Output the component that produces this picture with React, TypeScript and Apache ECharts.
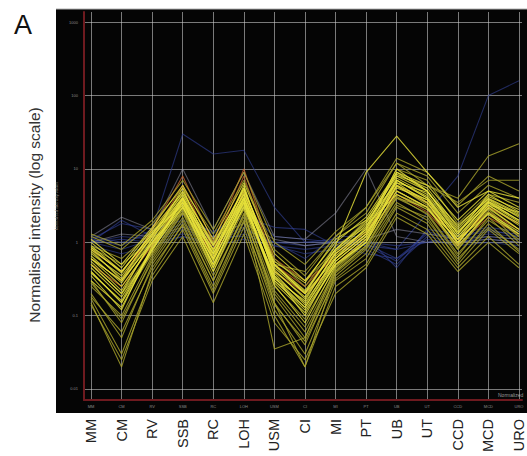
import React, { useEffect, useRef } from "react";
import * as echarts from "echarts";

const categories = ["MM", "CM", "RV", "SSB", "RC", "LOH", "USM", "CI", "MI", "PT", "UB", "UT", "CCD", "MCD", "URO"];
const yTickValues = [0.01, 0.1, 1, 10, 100, 1000];
const yTickLabels = ["0.01", "0.1", "1", "10", "100", "1000"];

const yellowProfiles = [
  [0.6, 0.3, 1.0, 4.0, 0.7, 4.5, 0.4, 0.18, 0.7, 1.5, 7, 4, 1.2, 3.5, 2.0],
  [0.4, 0.15, 0.8, 3.0, 0.5, 3.0, 0.3, 0.12, 0.5, 1.0, 5, 3, 0.9, 2.5, 1.4],
  [0.8, 0.4, 1.3, 5.0, 0.9, 5.5, 0.5, 0.22, 0.8, 1.8, 8, 5, 1.5, 4, 2.5],
  [1.1, 0.5, 1.6, 6, 1.1, 6.5, 0.7, 0.3, 1.0, 2.2, 9, 6, 2.0, 5, 3.0],
  [0.7, 0.35, 1.2, 3.5, 0.8, 4.0, 0.45, 0.2, 0.6, 1.3, 5.5, 3.8, 1.1, 3.2, 1.8],
  [0.35, 0.12, 0.9, 3.2, 0.4, 3.2, 0.35, 0.1, 0.55, 1.2, 6.5, 3.5, 1.0, 3.0, 1.5],
  [0.65, 0.28, 1.1, 4.2, 0.65, 4.8, 0.38, 0.14, 0.65, 1.4, 7.5, 4.5, 1.3, 3.8, 2.2],
  [0.45, 0.18, 0.75, 3.8, 0.55, 4.2, 0.28, 0.11, 0.5, 1.1, 6, 3.8, 0.95, 3.2, 1.7],
  [1.0, 0.45, 1.5, 4.8, 0.95, 5.2, 0.55, 0.28, 1.1, 2.0, 8.5, 5.5, 1.6, 4.2, 2.8],
  [0.38, 0.16, 0.85, 3.6, 0.5, 3.4, 0.3, 0.13, 0.6, 1.3, 7, 4.2, 1.2, 3.4, 1.9],
  [0.75, 0.32, 1.25, 4.5, 0.75, 5.5, 0.42, 0.17, 0.7, 1.5, 9, 5, 1.4, 3.6, 2.3],
  [0.6, 0.25, 0.95, 3.4, 0.58, 3.6, 0.33, 0.13, 0.55, 1.2, 5.8, 3.4, 1.0, 2.9, 1.5],
  [0.3, 0.13, 0.8, 4, 0.45, 4, 0.26, 0.08, 0.48, 1.0, 7, 4, 1.1, 3.6, 2.0],
  [0.9, 0.4, 1.3, 4.0, 0.9, 4.5, 0.5, 0.2, 0.9, 9, 28, 9, 3, 5, 4],
  [0.55, 0.22, 1.0, 3.0, 0.6, 3.5, 0.32, 0.16, 0.75, 1.7, 4.5, 2.8, 1.1, 2.4, 1.3],
  [0.5, 0.2, 1.1, 5.5, 0.6, 6, 0.35, 0.15, 0.6, 1.6, 10, 5, 1.3, 4.5, 2.6],
  [0.85, 0.38, 1.4, 3.2, 0.7, 3.8, 0.48, 0.21, 0.8, 1.9, 6.5, 4.8, 1.7, 3.9, 2.4],
];

const oliveProfiles = [
  [0.3, 0.08, 0.6, 2.5, 0.35, 2.2, 0.2, 0.06, 0.4, 0.9, 4, 2.5, 0.7, 2.0, 1.1],
  [0.5, 0.2, 0.7, 2.8, 0.45, 3.8, 0.25, 0.09, 0.45, 1.1, 6, 3.2, 0.8, 2.8, 1.2],
  [0.2, 0.05, 0.5, 2.0, 0.3, 2.5, 0.15, 0.04, 0.35, 0.8, 3.5, 2.0, 0.6, 1.6, 0.8],
  [0.9, 0.6, 1.4, 4.5, 1.0, 5.0, 0.6, 0.25, 0.9, 1.6, 10, 7, 1.8, 4.5, 3.5],
  [0.15, 0.02, 0.4, 1.8, 0.25, 2.0, 0.12, 0.03, 0.3, 0.6, 3, 1.8, 0.5, 1.5, 0.7],
  [0.17, 0.03, 0.35, 1.5, 0.2, 1.6, 0.1, 0.02, 0.25, 0.5, 2.5, 1.5, 0.45, 1.2, 0.5],
  [1.2, 0.8, 1.8, 5.5, 1.3, 7, 0.8, 0.35, 1.2, 2.5, 12, 8, 2.5, 6, 4],
  [0.25, 0.1, 0.65, 2.6, 0.4, 2.8, 0.22, 0.07, 0.42, 1.0, 5, 3.0, 0.8, 2.6, 1.0],
  [0.28, 0.09, 0.55, 2.2, 0.3, 2.4, 0.18, 0.05, 0.38, 0.85, 4.2, 2.4, 0.65, 2.2, 0.9],
  [0.8, 0.3, 1.2, 3.8, 0.8, 4.0, 0.5, 0.2, 0.8, 2.0, 8, 6, 3.5, 7, 7],
  [0.6, 0.3, 1.0, 3.5, 0.7, 3.8, 0.5, 0.4, 1.2, 3.0, 12, 6, 4, 15, 22],
  [0.5, 0.2, 0.8, 3, 0.5, 3.5, 0.15, 0.02, 0.4, 0.9, 4.5, 3, 0.8, 2.5, 1.2],
  [0.4, 0.15, 0.7, 2.8, 0.45, 3, 0.035, 0.05, 0.45, 1.0, 5, 3, 0.85, 2.6, 1.3],
  [0.85, 0.5, 1.1, 2.5, 0.8, 2.8, 0.55, 0.3, 0.8, 1.4, 4, 3, 1.4, 3.2, 2.6],
  [0.18, 0.06, 0.45, 1.7, 0.22, 1.9, 0.14, 0.045, 0.32, 0.7, 3.2, 2.2, 0.55, 1.8, 0.75],
  [0.14, 0.025, 0.3, 1.2, 0.15, 1.3, 0.08, 0.025, 0.2, 0.45, 2.2, 1.3, 0.4, 1.0, 0.45],
  [1.3, 0.9, 2.0, 7, 1.5, 9, 1.0, 0.5, 1.4, 3, 14, 9, 3.2, 8, 5],
];

const blueProfiles = [
  [1.0, 1.1, 1.0, 1.2, 1.0, 1.3, 1.0, 0.9, 1.0, 0.9, 0.8, 1.0, 1.0, 1.1, 1.0],
  [1.1, 0.9, 1.5, 30, 16, 18, 3, 1.0, 1.1, 1.0, 0.9, 1.0, 1.2, 1.5, 1.2],
  [1.0, 1.2, 1.1, 1.3, 1.2, 1.2, 1.0, 1.0, 1.0, 1.0, 0.8, 2.5, 8, 100, 160],
  [1.0, 0.8, 1.1, 1.5, 1.1, 1.6, 0.9, 0.7, 0.8, 0.8, 0.5, 1.2, 1.0, 1.2, 1.1],
  [1.1, 1.8, 1.5, 2.0, 1.4, 2.2, 1.6, 1.5, 0.9, 0.7, 0.6, 1.3, 1.2, 1.4, 1.3],
  [0.9, 0.7, 0.9, 1.2, 0.9, 1.1, 0.9, 0.8, 0.9, 0.95, 0.6, 1.1, 0.9, 1.0, 0.9],
  [1.0, 2.0, 1.2, 1.8, 1.0, 1.5, 1.0, 0.6, 1.2, 1.2, 0.45, 1.5, 1.3, 1.6, 1.4],
  [1.2, 1.0, 1.3, 2.5, 1.3, 3.0, 1.2, 1.1, 1.0, 0.9, 0.55, 1.4, 1.1, 1.3, 1.2],
];

const greyProfiles = [
  [1.2, 2.2, 1.5, 10, 1.5, 9, 1.2, 1.1, 2.5, 10, 1.2, 1.0, 1.0, 1.1, 1.0],
  [1.0, 1.3, 1.2, 1.6, 1.2, 1.8, 1.1, 0.9, 1.0, 1.1, 1.5, 1.3, 1.1, 1.2, 1.1],
];

const orangeProfiles = [
  [0.6, 0.3, 1.5, 8, 1.0, 10, 0.6, 0.3, 0.6, 1.3, 6, 3.5, 1.0, 3.0, 1.8],
  [0.8, 0.4, 1.2, 6, 0.8, 8, 0.5, 0.25, 0.7, 1.4, 5, 3.0, 1.1, 2.6, 1.5],
  [0.5, 0.25, 0.9, 4, 0.6, 5, 0.4, 0.2, 0.5, 1.1, 4.5, 2.6, 0.9, 2.2, 1.3],
];

const FONT = "'Liberation Sans', Arial, sans-serif";

function makeSeries(profiles: number[][], color: string, opacity: number, prefix: string) {
  return profiles.map((p, k) => ({
    name: `${prefix}${k + 1}`,
    type: "line",
    silent: true,
    showSymbol: false,
    symbol: "none",
    lineStyle: { width: 1.1, color, opacity },
    data: p.map((v, i) => [i, Math.log10(v)]),
  }));
}

export default function App() {
  const ref = useRef<HTMLDivElement>(null);
  useEffect(() => {
    if (!ref.current) return;
    const chart = echarts.init(ref.current, null, { renderer: "svg" });
    const catIdx = categories.map((_, i) => i);
    const yLog = yTickValues.map((v) => Math.log10(v));
    const gridLine = { show: true, lineStyle: { color: "rgba(200,200,200,0.6)", width: 1 } };
    chart.setOption({
      animation: false,
      backgroundColor: "#ffffff",
      title: {
        text: "A",
        left: 9,
        top: 6,
        textStyle: { fontSize: 27, fontWeight: "normal", color: "#111", fontFamily: FONT },
      },
      graphic: [
        {
          type: "rect",
          z: -10,
          silent: true,
          shape: { x: 56, y: 9, width: 471, height: 404 },
          style: { fill: "#050505" },
        },
        {
          type: "line",
          z: -9,
          silent: true,
          shape: { x1: 56, y1: 9, x2: 527, y2: 9 },
          style: { stroke: "#b0b0b0", lineWidth: 1 },
        },
        {
          type: "text",
          silent: true,
          x: 498,
          y: 392,
          style: { text: "Normalized", fill: "#9a9a9a", fontSize: 5, fontFamily: FONT },
        },
        {
          type: "text",
          silent: true,
          x: 34,
          y: 215,
          rotation: Math.PI / 2,
          style: {
            text: "Normalised intensity (log scale)",
            fill: "#333",
            fontSize: 15.5,
            fontFamily: FONT,
            align: "center",
            verticalAlign: "middle",
          },
        },
      ],
      grid: { left: 84, right: 5, top: 12, bottom: 56, outerBoundsMode: "none" },
      xAxis: [
        {
          type: "value",
          min: -0.23,
          max: 14.1,
          position: "bottom",
          axisLine: { show: true, onZero: false, lineStyle: { color: "#6e1a1f", width: 2 } },
          axisTick: { show: false, customValues: catIdx },
          splitLine: gridLine,
          axisLabel: {
            customValues: catIdx,
            formatter: (v: number) => categories[Math.round(v)] || "",
            fontSize: 4,
            color: "#8a8a8a",
            margin: 4,
            fontFamily: FONT,
          },
        },
        {
          type: "value",
          min: -0.23,
          max: 14.1,
          position: "bottom",
          axisLine: { show: false },
          axisTick: { show: false, customValues: catIdx },
          splitLine: { show: false },
          axisLabel: {
            customValues: catIdx,
            formatter: (v: number) => categories[Math.round(v)] || "",
            rotate: 90,
            fontSize: 14.5,
            color: "#222",
            margin: 19,
            fontFamily: FONT,
          },
        },
      ],
      yAxis: [
        {
          type: "value",
          min: -2.15,
          max: 3.14,
          position: "left",
          name: "Normalised intensity values",
          nameLocation: "middle",
          nameGap: 20,
          nameTextStyle: { fontSize: 4, color: "#8a8a8a", fontFamily: FONT },
          axisLine: { show: true, onZero: false, lineStyle: { color: "#6e1a1f", width: 2 } },
          axisTick: { show: false, customValues: yLog },
          splitLine: gridLine,
          axisLabel: {
            customValues: yLog,
            formatter: (v: number) => {
              const i = yLog.findIndex((t) => Math.abs(t - v) < 1e-6);
              return i >= 0 ? yTickLabels[i] : "";
            },
            fontSize: 4,
            color: "#8a8a8a",
            margin: 6,
            fontFamily: FONT,
          },
        },
      ],
      series: [
        ...makeSeries(blueProfiles, "#34429a", 0.6, "blue"),
        ...makeSeries(greyProfiles, "#9a9ab0", 0.5, "grey"),
        ...makeSeries(orangeProfiles, "#c0602a", 0.8, "orange"),
        ...makeSeries(oliveProfiles, "#a9a42c", 0.8, "olive"),
        ...makeSeries(yellowProfiles, "#e9e33a", 0.8, "yellow"),
      ],
    });
    return () => chart.dispose();
  }, []);
  return <div ref={ref} style={{ position: "absolute", left: 0, top: 0, width: 527, height: 456 }} />;
}
